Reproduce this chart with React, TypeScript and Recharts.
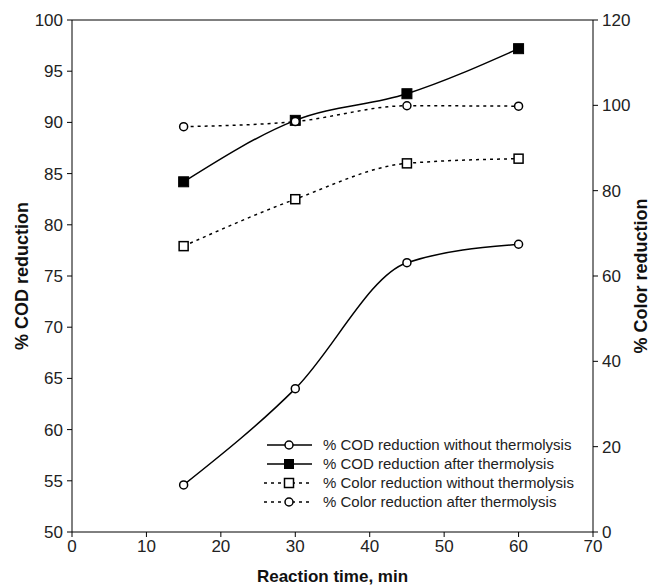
import { LineChart, Line, XAxis, YAxis, ReferenceLine, Label } from 'recharts';

const times = [15, 30, 45, 60];
const codWithout = [54.6, 64.0, 76.3, 78.1];
const codAfter = [84.2, 90.2, 92.8, 97.2];
const colorWithout = [67.0, 78.0, 86.4, 87.5];
const colorAfter = [95.0, 96.2, 99.9, 99.8];

const xTicks = [0, 10, 20, 30, 40, 50, 60, 70];
const codTicks = [50, 55, 60, 65, 70, 75, 80, 85, 90, 95, 100];
const colorTicks = [0, 20, 40, 60, 80, 100, 120];

const legendNames = [
  '% COD reduction without thermolysis',
  '% COD reduction after thermolysis',
  '% Color reduction without thermolysis',
  '% Color reduction after thermolysis',
];

const data = times.map((t, i) => ({
  time: t,
  codWithout: codWithout[i],
  codAfter: codAfter[i],
  colorWithout: colorWithout[i],
  colorAfter: colorAfter[i],
}));

const FONT = '"Liberation Sans", Arial, sans-serif';
const tickStyle = { fontSize: 17, fill: '#222', fontFamily: FONT };

const openCircle = (p: any) => (
  <circle key={p.key} cx={p.cx} cy={p.cy} r={4} fill="#fff" stroke="#000" strokeWidth={1.5} />
);
const filledSquare = (p: any) => (
  <rect key={p.key} x={p.cx - 5} y={p.cy - 5} width={10} height={10} fill="#000" stroke="#000" />
);
const openSquare = (p: any) => (
  <rect key={p.key} x={p.cx - 4.5} y={p.cy - 4.5} width={9} height={9} fill="#fff" stroke="#000" strokeWidth={1.5} />
);

function LegendBox() {
  const rows = [
    { dash: undefined, marker: 'circle' },
    { dash: undefined, marker: 'fsquare' },
    { dash: '3 4', marker: 'osquare' },
    { dash: '3 4', marker: 'circle' },
  ];
  return (
    <div style={{ position: 'absolute', left: 262, top: 435, fontFamily: FONT, fontSize: 15, color: '#222', whiteSpace: 'nowrap' }}>
      {rows.map((r, i) => (
        <div key={i} style={{ display: 'flex', alignItems: 'center', height: 19 }}>
          <svg width={52} height={14} style={{ marginRight: 9 }}>
            <line x1={r.dash ? 2 : 5} y1={7} x2={50} y2={7} stroke="#000" strokeWidth={1.5} strokeDasharray={r.dash} />
            {r.marker === 'circle' && <circle cx={27} cy={7} r={4} fill="#fff" stroke="#000" strokeWidth={1.5} />}
            {r.marker === 'fsquare' && <rect x={22} y={2} width={10} height={10} fill="#000" />}
            {r.marker === 'osquare' && <rect x={22.5} y={2.5} width={9} height={9} fill="#fff" stroke="#000" strokeWidth={1.5} />}
          </svg>
          <span>{legendNames[i]}</span>
        </div>
      ))}
    </div>
  );
}

export default function App() {
  return (
    <div style={{ position: 'absolute', left: 0, top: 0, width: 658, height: 585, background: '#fff' }}>
      <LineChart width={658} height={585} data={data} margin={{ top: 20, right: 10, bottom: 23, left: 12 }}>
        <XAxis
          dataKey="time"
          type="number"
          domain={[0, 70]}
          ticks={xTicks}
          tick={tickStyle}
          tickSize={5}
          tickMargin={3}
          stroke="#000"
          height={30}
        >
          <Label
            content={({ viewBox }: any) => (
              <text
                x={viewBox.x + viewBox.width / 2}
                y={viewBox.y + 50}
                textAnchor="middle"
                style={{ fontFamily: FONT, fontSize: 17, fontWeight: 'bold', fill: '#111' }}
              >
                Reaction time, min
              </text>
            )}
          />
        </XAxis>
        <YAxis
          yAxisId="left"
          domain={[50, 100]}
          ticks={codTicks}
          tick={tickStyle}
          tickSize={5}
          tickMargin={4}
          stroke="#000"
          width={60}
        >
          <Label
            content={({ viewBox }: any) => {
              const x = 22;
              const y = viewBox.y + viewBox.height / 2;
              return (
                <text
                  x={x}
                  y={y}
                  transform={`rotate(-90, ${x}, ${y})`}
                  textAnchor="middle"
                  dominantBaseline="central"
                  style={{ fontFamily: FONT, fontSize: 18, fontWeight: 'bold', fill: '#111' }}
                >
                  % COD reduction
                </text>
              );
            }}
          />
        </YAxis>
        <YAxis
          yAxisId="right"
          orientation="right"
          domain={[0, 120]}
          ticks={colorTicks}
          tick={tickStyle}
          tickSize={5}
          tickMargin={4}
          stroke="#000"
          width={55}
        >
          <Label
            content={({ viewBox }: any) => {
              const x = 641;
              const y = viewBox.y + viewBox.height / 2;
              return (
                <text
                  x={x}
                  y={y}
                  transform={`rotate(-90, ${x}, ${y})`}
                  textAnchor="middle"
                  dominantBaseline="central"
                  style={{ fontFamily: FONT, fontSize: 18, fontWeight: 'bold', fill: '#111' }}
                >
                  % Color reduction
                </text>
              );
            }}
          />
        </YAxis>
        <ReferenceLine yAxisId="left" y={100} stroke="#000" strokeWidth={1} />
        <Line
          yAxisId="left"
          type="monotone"
          dataKey="codWithout"
          stroke="#000"
          strokeWidth={1.5}
          dot={openCircle}
          isAnimationActive={false}
        />
        <Line
          yAxisId="left"
          type="monotone"
          dataKey="codAfter"
          stroke="#000"
          strokeWidth={1.5}
          dot={filledSquare}
          isAnimationActive={false}
        />
        <Line
          yAxisId="right"
          type="monotone"
          dataKey="colorWithout"
          stroke="#000"
          strokeWidth={1.5}
          strokeDasharray="3 4"
          dot={openSquare}
          isAnimationActive={false}
        />
        <Line
          yAxisId="right"
          type="monotone"
          dataKey="colorAfter"
          stroke="#000"
          strokeWidth={1.5}
          strokeDasharray="3 4"
          dot={openCircle}
          isAnimationActive={false}
        />
      </LineChart>
      <LegendBox />
    </div>
  );
}
